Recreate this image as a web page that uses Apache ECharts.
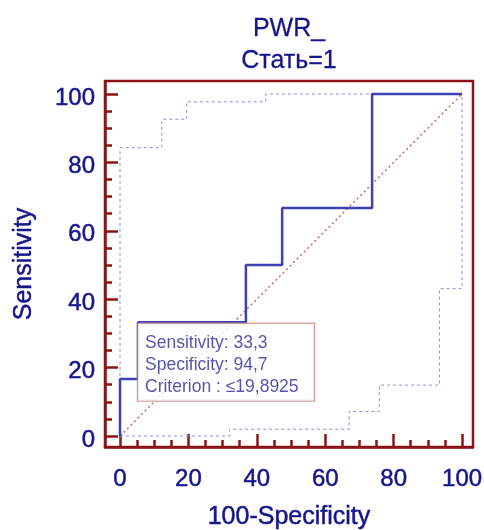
<!DOCTYPE html>
<html><head><meta charset="utf-8">
<script src="https://cdn.jsdelivr.net/npm/echarts@6/dist/echarts.min.js"></script>
<style>html,body{margin:0;padding:0;background:#fff}#c{width:484px;height:530px}</style>
</head><body><div id="c"></div>
<script>
// ---- data ----
const titleLines = ['PWR_', 'Стать=1'];
const xName = '100-Specificity';
const yName = 'Sensitivity';
const majorTicks = [0, 20, 40, 60, 80, 100];
const minorTicks = [5, 10, 15, 25, 30, 35, 45, 50, 55, 65, 70, 75, 85, 90, 95];
const rocX = [0, 0, 5.26, 5.26, 36.8, 36.8, 47.4, 47.4, 73.7, 73.7, 100];
const rocY = [0, 16.7, 16.7, 33.3, 33.3, 50, 50, 66.7, 66.7, 100, 100];
const upperX = [0, 0, 12.2, 12.2, 19.5, 19.5, 42.6, 42.6, 100];
const upperY = [0, 84.3, 84.3, 92.6, 92.6, 97.7, 97.7, 100, 100];
const lowerX = [0, 32.0, 32.0, 67.0, 67.0, 75.8, 75.8, 93.4, 93.4, 100, 100];
const lowerY = [0, 0, 2.0, 2.0, 7.2, 7.2, 14.9, 14.9, 43.1, 43.1, 100];
const diagX = [0, 100];
const diagY = [0, 100];
const criterionPoint = [5.26, 33.3];
const criterionLines = ['Sensitivity: 33,3', 'Specificity: 94,7', 'Criterion : \u226419,8925'];

// ---- styles ----
const TXT = '#16168c';
const FRAME = '#8b1414';
const FONT = '"Liberation Sans", Arial, sans-serif';
const XMIN = -4.39, XMAX = 103.2, YMIN = -3.2, YMAX = 103.8;
const BOLDEN = { textBorderColor: TXT, textBorderWidth: 0.5 };

const zip = (a, b) => a.map((v, i) => [v, b[i]]);

function xAxisPair() {
  return [
    { type: 'value', position: 'bottom', min: XMIN, max: XMAX,
      axisLine: { show: true, onZero: false, lineStyle: { color: FRAME, width: 2.5 } },
      axisTick: { show: true, inside: true, length: 13, customValues: majorTicks, lineStyle: { color: FRAME, width: 2.5 } },
      axisLabel: Object.assign({ show: true, customValues: majorTicks, margin: 20, color: TXT, fontSize: 24, fontFamily: FONT }, BOLDEN),
      splitLine: { show: false },
      name: xName, nameLocation: 'middle', nameGap: 58,
      nameTextStyle: Object.assign({ color: TXT, fontSize: 25, fontFamily: FONT }, BOLDEN) },
    { type: 'value', position: 'bottom', min: XMIN, max: XMAX,
      axisLine: { show: false, onZero: false },
      axisTick: { show: true, inside: true, length: 7, customValues: minorTicks, lineStyle: { color: FRAME, width: 2.5 } },
      axisLabel: { show: false }, splitLine: { show: false } }
  ];
}
function yAxisPair() {
  return [
    { type: 'value', position: 'left', min: YMIN, max: YMAX,
      axisLine: { show: true, onZero: false, lineStyle: { color: FRAME, width: 2.5 } },
      axisTick: { show: true, inside: true, length: 13, customValues: majorTicks, lineStyle: { color: FRAME, width: 2.5 } },
      axisLabel: Object.assign({ show: true, customValues: majorTicks, margin: 10, verticalAlign: 'top', lineHeight: 8, color: TXT, fontSize: 24, fontFamily: FONT }, BOLDEN),
      splitLine: { show: false },
      name: yName, nameLocation: 'middle', nameGap: 68, nameRotate: 90,
      nameTextStyle: Object.assign({ color: TXT, fontSize: 25, fontFamily: FONT }, BOLDEN) },
    { type: 'value', position: 'left', min: YMIN, max: YMAX,
      axisLine: { show: false, onZero: false },
      axisTick: { show: true, inside: true, length: 7, customValues: minorTicks, lineStyle: { color: FRAME, width: 2.5 } },
      axisLabel: { show: false }, splitLine: { show: false } }
  ];
}

const chart = echarts.init(document.getElementById('c'), null, { renderer: 'canvas' });
chart.setOption({
  animation: false,
  backgroundColor: '#fff',
  title: {
    text: titleLines.join('\n'), left: 284, top: 8, textAlign: 'center',
    textStyle: Object.assign({ color: TXT, fontSize: 25, fontWeight: 'normal', fontFamily: FONT, lineHeight: 32 }, { textBorderColor: TXT, textBorderWidth: 0.3 })
  },
  grid: { left: 105, right: 11, top: 81, bottom: 83, show: true, borderColor: FRAME, borderWidth: 2.5, backgroundColor: 'transparent', containLabel: false, outerBoundsMode: 'none' },
  xAxis: xAxisPair(),
  yAxis: yAxisPair(),
  series: [
    { type: 'line', data: zip(diagX, diagY), symbol: 'none', silent: true,
      lineStyle: { color: '#d06464', width: 1.5, type: [2, 3] }, z: 2 },
    { type: 'line', data: zip(upperX, upperY), symbol: 'none', silent: true,
      lineStyle: { color: '#8c8ce6', width: 1, type: [3, 3] }, z: 2 },
    { type: 'line', data: zip(lowerX, lowerY), symbol: 'none', silent: true,
      lineStyle: { color: '#8c8ce6', width: 1, type: [3, 3] }, z: 2 },
    { type: 'line', data: zip(rocX, rocY), symbol: 'none', silent: true,
      lineStyle: { color: '#3c40b0', width: 2.5 }, z: 3 },
    { type: 'scatter', data: [criterionPoint], symbolSize: 0, silent: true, z: 5,
      label: {
        show: true, position: [0, 1.5], align: 'left', verticalAlign: 'top',
        formatter: criterionLines.join('\n'),
        color: '#2a2a9a', fontSize: 17.5, fontFamily: FONT, lineHeight: 22,
        backgroundColor: '#fff', borderColor: '#c08282', borderWidth: 1.2,
        padding: [9, 6, 2, 7], width: 163
      } }
  ]
});
</script></body></html>
